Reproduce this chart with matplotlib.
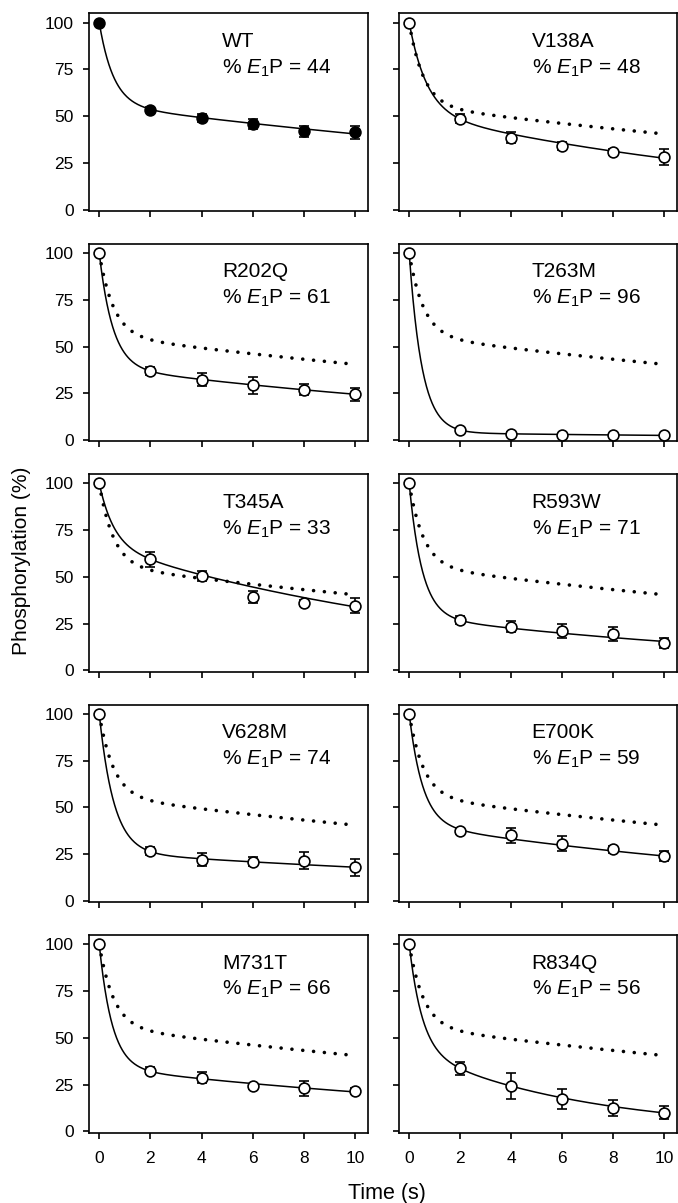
import matplotlib
matplotlib.use("Agg")
import matplotlib.pyplot as plt
import numpy as np

plt.rcParams['font.family'] = ['Liberation Sans', 'DejaVu Sans']
plt.rcParams['mathtext.fontset'] = 'custom'
plt.rcParams['mathtext.rm'] = 'Liberation Sans'
plt.rcParams['mathtext.it'] = 'Liberation Sans:italic'

# --- data ---
time_s = [0, 2, 4, 6, 8, 10]

names = ["WT", "V138A", "R202Q", "T263M", "T345A",
         "R593W", "V628M", "E700K", "M731T", "R834Q"]
e1p_pct = [44, 48, 61, 96, 33, 71, 74, 59, 66, 56]

phos = [
    [100, 53.5, 49.0, 45.8, 42.0, 41.5],   # WT
    [100, 48.6, 38.5, 34.0, 30.8, 28.3],   # V138A
    [100, 36.9, 32.3, 29.2, 26.9, 24.5],   # R202Q
    [100, 5.5, 3.5, 2.6, 2.5, 2.5],        # T263M
    [100, 59.5, 50.5, 39.5, 36.2, 34.6],   # T345A
    [100, 27.0, 23.5, 21.2, 19.6, 14.8],   # R593W
    [100, 26.5, 22.0, 21.0, 21.5, 18.0],   # V628M
    [100, 37.5, 35.0, 30.5, 27.5, 24.0],   # E700K
    [100, 32.4, 28.7, 24.0, 23.1, 21.5],   # M731T
    [100, 33.7, 24.4, 17.2, 12.6, 10.0],   # R834Q
]
phos_err = [
    [0, 1.2, 2.0, 2.8, 3.0, 3.5],
    [0, 2.5, 2.8, 2.0, 1.5, 4.3],
    [0, 2.0, 3.4, 4.3, 3.0, 3.6],
    [0, 1.0, 0.8, 0.6, 0.6, 0.8],
    [0, 4.0, 2.5, 3.2, 1.5, 4.0],
    [0, 2.2, 3.0, 3.6, 3.6, 2.6],
    [0, 2.2, 3.6, 2.6, 4.6, 4.6],
    [0, 1.6, 4.0, 4.0, 2.0, 2.6],
    [0, 2.0, 3.0, 1.5, 4.0, 1.6],
    [0, 3.5, 6.9, 5.2, 4.3, 3.5],
]

# bi-exponential fit parameters (fast phase = E1P fraction)
k_fast = [1.8, 1.45, 1.9, 2.0, 1.75, 2.0, 1.75, 1.9, 2.0, 2.0]
k_slow = [0.0324, 0.0637, 0.0465, 0.047, 0.0678, 0.0626, 0.0368, 0.0536, 0.048, 0.150]


def biexp(t, frac, kf, ks):
    return frac * np.exp(-kf * t) + (100 - frac) * np.exp(-ks * t)


W, H = 678, 1203
fig = plt.figure(figsize=(W / 100, H / 100), dpi=100)

col_left = [89, 399]
col_width = [279, 278]
row_top0 = 13.3
row_step = 230.4
ax_height = 197.7

t_line = np.linspace(0, 10, 400)
wt_line = biexp(t_line, e1p_pct[0], k_fast[0], k_slow[0])

for i, name in enumerate(names):
    row, col = i // 2, i % 2
    top = row_top0 + row * row_step
    ax = fig.add_axes([col_left[col] / W, 1 - (top + ax_height) / H,
                       col_width[col] / W, ax_height / H])

    # WT fit shown as dotted reference in every mutant panel
    if i > 0:
        ax.plot(t_line, wt_line, color='black', lw=2.6,
                linestyle=(0, (0.01, 3.0)), dash_capstyle='round', zorder=2)
    ax.plot(t_line, biexp(t_line, e1p_pct[i], k_fast[i], k_slow[i]),
            color='black', lw=1.1, zorder=3)

    face = 'black' if i == 0 else 'white'
    ax.errorbar(time_s, phos[i], yerr=phos_err[i], fmt='o', ms=7.8,
                mfc=face, mec='black', mew=1.2, ecolor='black',
                elinewidth=1.2, capsize=3.5, capthick=1.2, zorder=4)

    ax.text(0.477, 0.905, name + "\n" + r"% $\mathit{E}_{1}$P = " + str(e1p_pct[i]),
            transform=ax.transAxes, ha='left', va='top', fontsize=15,
            linespacing=1.4)

    ax.set_xlim(-0.4, 10.5)
    ax.set_ylim(-0.7, 105)
    ax.set_xticks(time_s)
    ax.set_yticks([0, 25, 50, 75, 100])
    for sp in ax.spines.values():
        sp.set_linewidth(1.2)
    ax.tick_params(direction='out', length=4.5, width=1.2, labelsize=12.5)
    ax.tick_params(axis='x', pad=8.5)
    ax.tick_params(axis='y', pad=6.5)
    if col == 1:
        ax.tick_params(axis='y', labelleft=False)
    if row < 4:
        ax.tick_params(axis='x', labelbottom=False)

fig.text(22 / W, 1 - 561 / H, "Phosphorylation (%)", rotation=90,
         ha='center', va='center', fontsize=15)
fig.text(387 / W, 1 - 1194 / H, "Time (s)", ha='center', va='center',
         fontsize=15.5)

fig.savefig("out.png", dpi=100)
